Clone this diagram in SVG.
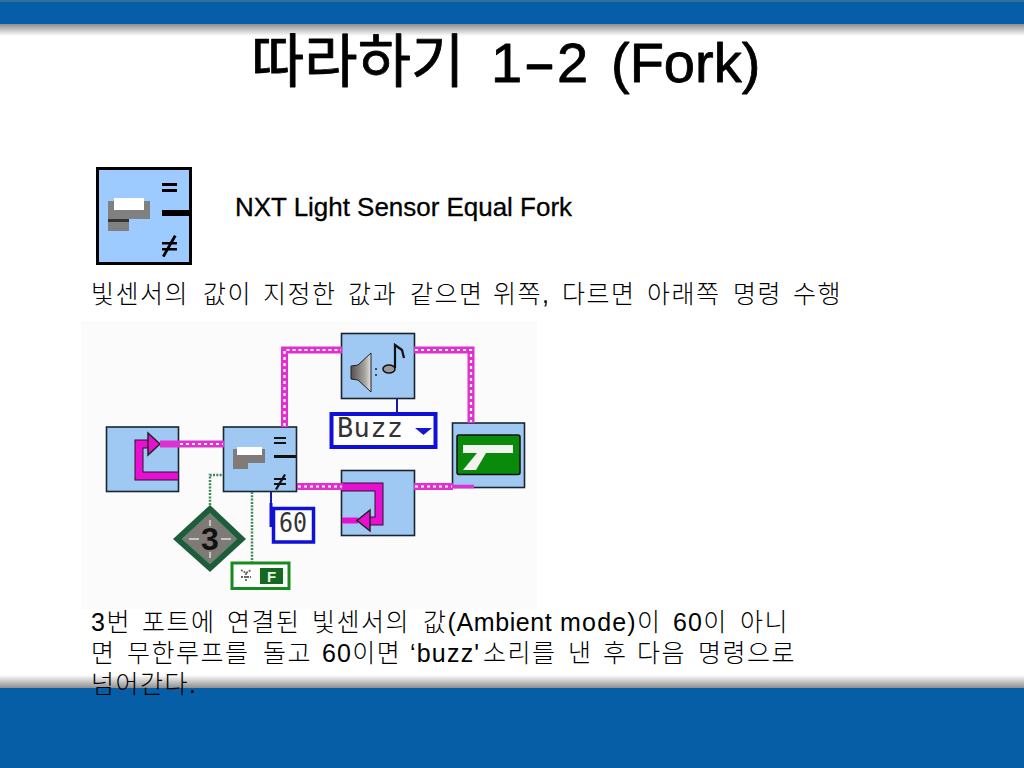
<svg xmlns="http://www.w3.org/2000/svg" width="1024" height="768" viewBox="0 0 1024 768">
<defs>
<linearGradient id="gt" x1="0" y1="0" x2="0" y2="1"><stop offset="0" stop-color="#8e8e8e"/><stop offset="1" stop-color="#ffffff"/></linearGradient>
<linearGradient id="gb" x1="0" y1="0" x2="0" y2="1"><stop offset="0" stop-color="#ffffff"/><stop offset="1" stop-color="#8e8e8e"/></linearGradient>
<linearGradient id="spk" x1="0" y1="0" x2="1" y2="0"><stop offset="0" stop-color="#55504e"/><stop offset="0.700" stop-color="#a8a4a0"/><stop offset="1" stop-color="#e6e2dc"/></linearGradient>
</defs>
<style>
.t{font-family:"Liberation Sans","Noto Sans CJK KR",sans-serif;fill:#000}
.b{font-size:25px;font-weight:300;letter-spacing:1.5px}
.l{letter-spacing:1.2px}
.a{letter-spacing:0.6px}
.blk{fill:#9fc8f3;stroke:#1a2530;stroke-width:1.6}
.wp{fill:none;stroke:#e030d0;stroke-width:7}
.wd{fill:none;stroke:#fff;stroke-width:2.200;stroke-dasharray:3 3}
.mgo{fill:none;stroke:#2a1030;stroke-width:9}
.mg{fill:none;stroke:#e810d0;stroke-width:7}
.dot{fill:none;stroke:#3f8a5c;stroke-width:2.500;stroke-dasharray:2 1.300}
.sym{font-family:"Liberation Sans",sans-serif;font-weight:700;fill:#111}
</style>
<rect width="1024" height="768" fill="#fff"/>
<g id="bands">
<rect width="1024" height="24" fill="#055ea6"/>
<rect width="1024" height="2" fill="#336f9c"/>
<rect y="24" width="1024" height="12" fill="url(#gt)"/>
<rect y="675" width="1024" height="13" fill="url(#gb)"/>
<rect y="688" width="1024" height="80" fill="#055ea6"/>
</g>
<text class="t" y="82" font-size="56" id="title" stroke="#000" stroke-width="0.800" stroke-linejoin="round"><tspan x="251" font-size="58" style="font-family:'Noto Sans CJK KR'">따라하기 </tspan><tspan x="491">1</tspan><tspan x="523" textLength="33" lengthAdjust="spacingAndGlyphs">-</tspan><tspan x="557">2 </tspan><tspan x="611">(Fork)</tspan></text>
<g id="icon-fork">
<rect x="97.500" y="168.500" width="93" height="95" fill="#9ecbff" stroke="#000" stroke-width="3"/>
<path d="M108 201h42v18h-21v12h-21z" fill="#808080"/>
<rect x="114" y="198" width="30" height="12" fill="#fff"/>
<rect x="108" y="219" width="21" height="3" fill="#333"/>
<g fill="#000">
<rect x="162" y="183" width="15" height="3"/><rect x="162" y="189" width="15" height="3"/>
<rect x="162" y="210" width="28" height="6"/>
<rect x="162" y="242" width="15" height="2.500"/><rect x="162" y="248" width="15" height="2.500"/>
<path d="M174 235l2.500 1.300-12 21-2.500-1.300z"/>
</g>
</g>
<text class="t" x="235" y="216" font-size="25" textLength="337" lengthAdjust="spacingAndGlyphs" stroke="#000" stroke-width="0.300">NXT Light Sensor Equal Fork</text>
<text class="t b" y="303"><tspan x="91">빛센서의 </tspan><tspan x="203">값이 </tspan><tspan x="263">지정한 </tspan><tspan x="348">값과 </tspan><tspan x="410">같으면 </tspan><tspan x="493">위쪽, </tspan><tspan x="562">다르면 </tspan><tspan x="647">아래쪽 </tspan><tspan x="733">명령 </tspan><tspan x="793">수행</tspan></text>
<rect id="panel" x="81" y="321" width="456" height="288" fill="#fbfbfb"/>
<g id="loop-start">
<rect class="blk" x="106.500" y="427" width="72" height="64.500"/>
<path class="mgo" d="M178 476H139V444H152"/>
<path class="mg" d="M178 476H139V444H152"/>
<path d="M148 433l12 11-12 11z" fill="#e810d0" stroke="#222" stroke-width="1.500"/>
</g>
<g id="fork">
<rect class="blk" x="223.500" y="427" width="73" height="64.500"/>
<path d="M233 449h32v14h-17v6h-15z" fill="#807a78"/>
<rect x="237" y="447" width="25" height="8" fill="#fff"/>
<g fill="#111"><rect x="274" y="437" width="12" height="2"/><rect x="274" y="442" width="12" height="2"/><rect x="274" y="455" width="22" height="3"/><rect x="274" y="478" width="12" height="2"/><rect x="274" y="483" width="12" height="2"/><path d="M284 474l2 1-9 15-2-1z"/></g>
</g>
<g id="sound">
<rect class="blk" x="341.500" y="333.500" width="73" height="65"/>
<path d="M351 366l7-1 13-12v39l-13-12-7-1z" fill="url(#spk)" stroke="#222" stroke-width="1"/>
<ellipse cx="389" cy="369" rx="6" ry="4" fill="#9a9a9a" stroke="#111" stroke-width="1.500"/>
<path d="M395 368V345l7 5 2 8" fill="none" stroke="#111" stroke-width="2.200"/>
<path d="M376 368v2M376 374v2" stroke="#222" stroke-width="1.500"/>
</g>
<g id="buzz">
<rect x="331.500" y="414" width="104" height="33" fill="#fff" stroke="#1010d8" stroke-width="4"/>
<text x="337" y="437" font-size="27" font-family="DejaVu Sans Mono, monospace" fill="#333" textLength="66">Buzz</text>
<path d="M415 428h17l-8.500 7z" fill="#1818c8"/>
</g>
<g id="stop">
<rect class="blk" x="452.500" y="423" width="72" height="64.500"/>
<rect x="457" y="435" width="63" height="39.500" rx="2" fill="#0a8a0a" stroke="#111" stroke-width="1.500"/>
<path d="M463 445h50v8h-27l-10 17h-13l14-17h-14z" fill="#f4f4ee"/>
</g>
<g id="loop-end">
<rect class="blk" x="341.500" y="470.500" width="73" height="65"/>
<path class="mgo" d="M342 487H379V521H366"/>
<path class="mg" d="M342 487H379V521H366"/>
<path d="M342 520.500H358" fill="none" stroke="#e810d0" stroke-width="6"/>
<path d="M370 510l-13 10.500 13 10.500z" fill="#e810d0" stroke="#222" stroke-width="1.500"/>
</g>
<g id="connectors">
<path class="wp" d="M160 444H224M284.500 427V350H342M414 350H471V423M297 486.500H343M414 486.500H453"/>
<path d="M452 486.500H474" fill="none" stroke="#e030d0" stroke-width="3.500"/>
<path class="wd" d="M180 444H223M284.500 426V350H341M415 350H471V422M298 486.500H342M415 486.500H452"/>
<path class="dot" d="M210 505V475H223M252 492V562"/>
<path d="M271 492V527M397 398V413" fill="none" stroke="#1a1aa8" stroke-width="2"/>
</g>
<g id="value">
<path d="M271 503V527" stroke="#1010d8" stroke-width="3"/>
<rect x="273.500" y="508.500" width="40" height="33.500" fill="#fff" stroke="#1010d8" stroke-width="3.500"/>
<text x="279" y="532" font-size="27" font-family="DejaVu Sans Mono, monospace" fill="#333" textLength="28" lengthAdjust="spacingAndGlyphs">60</text>
</g>
<g id="port">
<path d="M210 505L246 539 210 572 173 539z" fill="#1f5c3c"/>
<path d="M210 513L237 539 210 564 182 539z" fill="#7f7a76" stroke="#4a8a65" stroke-width="1"/>
<path d="M189 539h10M221 539h10M210 520v6M210 552v6" stroke="#ddd" stroke-width="1.500"/>
<text class="sym" x="210" y="550" font-size="32" text-anchor="middle">3</text>
</g>
<g id="flag">
<rect x="232" y="563" width="57" height="25.500" fill="#fff" stroke="#178a1e" stroke-width="3"/>
<rect x="260" y="568" width="23" height="16" fill="#14691e"/>
<text class="sym" x="271.500" y="582" font-size="15" text-anchor="middle" style="fill:#e8f0e8">F</text>
<path d="M241 570l5 3 5-3M246 573v9M241 577h10" stroke="#666" stroke-width="1.800" fill="none" stroke-dasharray="2 1"/>
</g>
<g id="body">
<text class="t b" y="631"><tspan x="91">3번 </tspan><tspan x="142">포트에 </tspan><tspan x="227">연결된 </tspan><tspan x="312">빛센서의 </tspan><tspan x="423">값</tspan><tspan class="a">(Ambient </tspan><tspan x="560" class="l">mode)</tspan><tspan>이 </tspan><tspan x="673" class="l">60</tspan><tspan>이 </tspan><tspan x="740">아니</tspan></text>
<text class="t b" y="662"><tspan x="91">면 </tspan><tspan x="127">무한루프를 </tspan><tspan x="263">돌고 </tspan><tspan x="322" class="l">60</tspan><tspan>이면 </tspan><tspan x="410" class="l">‘buzz'</tspan><tspan x="483">소리를 </tspan><tspan x="568">낸 </tspan><tspan x="603">후 </tspan><tspan x="637">다음 </tspan><tspan x="698">명령으로</tspan></text>
<text class="t b" x="91" y="693">넘어간다.</text>
</g>
</svg>
